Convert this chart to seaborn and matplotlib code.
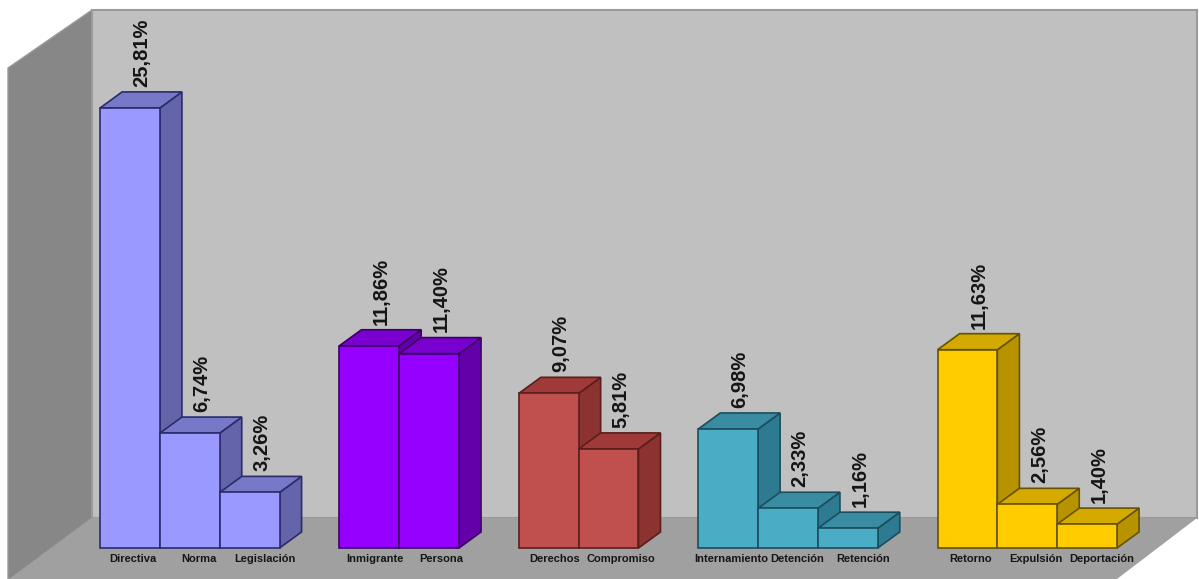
import pandas as pd
import matplotlib.pyplot as plt
import seaborn as sns
from matplotlib.patches import Polygon

# Datos del gráfico
categorias = ['Directiva', 'Norma', 'Legislación',
              'Inmigrante', 'Persona',
              'Derechos', 'Compromiso',
              'Internamiento', 'Detención', 'Retención',
              'Retorno', 'Expulsión', 'Deportación']
valores = [25.81, 6.74, 3.26,
           11.86, 11.40,
           9.07, 5.81,
           6.98, 2.33, 1.16,
           11.63, 2.56, 1.40]
grupos = [1, 1, 1, 2, 2, 3, 3, 4, 4, 4, 5, 5, 5]
posiciones = [0, 1, 2, 4, 5, 7, 8, 10, 11, 12, 14, 15, 16]
etiquetas = [f'{v:.2f}%'.replace('.', ',') for v in valores]

# Colores por grupo: frente, arriba, lado, borde
color_frente = {1: '#9999FF', 2: '#9600FF', 3: '#C0504D', 4: '#4BACC6', 5: '#FFCC00'}
color_arriba = {1: '#7878C8', 2: '#7A00D0', 3: '#A03A38', 4: '#3A8CA3', 5: '#D4AA00'}
color_lado = {1: '#6464AA', 2: '#6300A8', 3: '#8C3230', 4: '#2E7A90', 5: '#B89300'}
color_borde = {1: '#2B2B6B', 2: '#3D0066', 3: '#5A1E1D', 4: '#1B4E5C', 5: '#665200'}

df = pd.DataFrame({'Categoria': categorias, 'Valor': valores,
                   'Grupo': grupos, 'Pos': posiciones})
centro_grupo = df.groupby('Grupo')['Pos'].mean()

sns.set_theme(style='white')
plt.rcParams['font.family'] = ['Liberation Sans', 'DejaVu Sans']

W, H = 1199, 579
fig = plt.figure(figsize=(W / 100, H / 100), dpi=100)
ax = fig.add_axes([0, 0, 1, 1])


# Paredes (en pixeles de la imagen)
def px(x, y):
    return (x / W, 1 - y / H)


pared_izq = Polygon([px(8, 68), px(92, 10), px(92, 518), px(10, 579), px(8, 579)],
                    closed=True, transform=ax.transAxes, facecolor='#878787',
                    edgecolor='#9a9a9a', linewidth=1, zorder=0)
pared_fondo = Polygon([px(92, 10), px(1197, 10), px(1197, 518), px(92, 518)],
                      closed=True, transform=ax.transAxes, facecolor='#C0C0C0',
                      edgecolor='#9a9a9a', linewidth=1.5, zorder=0)
piso = Polygon([px(92, 518), px(1197, 518), px(1117, 579), px(10, 579)],
               closed=True, transform=ax.transAxes, facecolor='#A0A0A0',
               edgecolor='none', zorder=0.5)
for p in (pared_izq, pared_fondo, piso):
    ax.add_patch(p)

# Barras (cara frontal)
sns.barplot(data=df, x='Pos', y='Valor', hue='Grupo', palette=color_frente,
            native_scale=True, dodge=False, width=1, saturation=1,
            errorbar=None, legend=False, ax=ax)

# Profundidad 3D
dx = 0.368
dy = 0.94

barras = sorted([b for b in ax.patches if hasattr(b, 'get_width') and b.get_height() > 0],
                key=lambda b: b.get_x())
for i, (b, g, et) in enumerate(zip(barras, grupos, etiquetas)):
    x0 = b.get_x()
    x1 = x0 + b.get_width()
    h = b.get_height()
    b.set_edgecolor(color_borde[g])
    b.set_linewidth(1.2)
    b.set_zorder(3 + 2 * i)
    lado = Polygon([(x1, 0), (x1 + dx, dy), (x1 + dx, h + dy), (x1, h)], closed=True,
                   facecolor=color_lado[g], edgecolor=color_borde[g], linewidth=1.2,
                   zorder=2 + 2 * i)
    arriba = Polygon([(x0, h), (x0 + dx, h + dy), (x1 + dx, h + dy), (x1, h)], closed=True,
                     facecolor=color_arriba[g], edgecolor=color_borde[g], linewidth=1.2,
                     zorder=2 + 2 * i)
    ax.add_patch(lado)
    ax.add_patch(arriba)
    xc = (x0 + x1) / 2
    ax.text(xc + 0.2, h + dy + 0.3, et, rotation=90, ha='center', va='bottom',
            fontsize=14.5, fontweight='bold', color='#151515', zorder=100)
    # etiquetas un poco separadas dentro de cada grupo
    cg = centro_grupo[g]
    xl = cg + 0.15 + (xc - cg) * 1.1
    ax.text(xl, -0.62, categorias[i], ha='center', va='center',
            fontsize=8, fontweight='bold', color='#151515', zorder=100)

ax.set_xlim(-130 / 59.82, (W - 130) / 59.82)
ax.set_ylim(-31 / 17.05, (H - 31) / 17.05)
ax.axis('off')

fig.savefig('out.png', dpi=100, facecolor='white')
